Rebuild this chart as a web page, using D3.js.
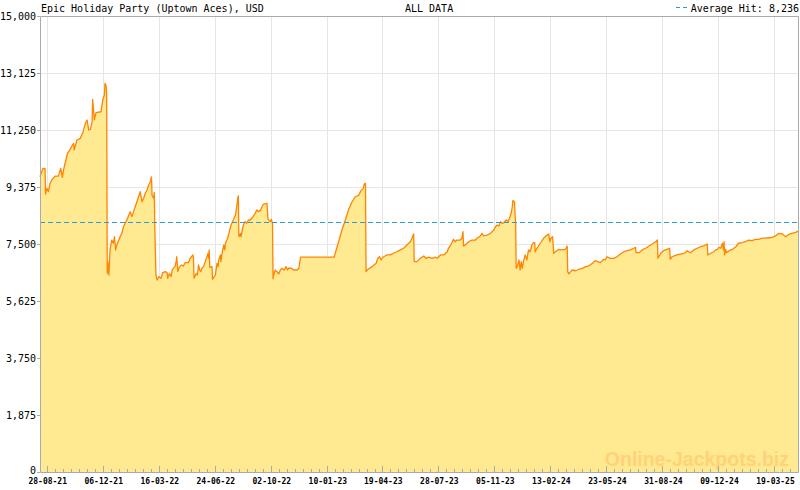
<!DOCTYPE html>
<html><head><meta charset="utf-8">
<script src="https://cdnjs.cloudflare.com/ajax/libs/d3/7.8.5/d3.min.js"></script>
<style>body{margin:0;background:#fff}svg{display:block}</style>
</head><body>
<svg id="chart" width="800" height="490"></svg>
<script>
const chartTitle = "Epic Holiday Party (Uptown Aces), USD";
const rangeLabel = "ALL DATA";
const averageLabel = "Average Hit: ";
const averageHit = 8236;
const watermark = "Online-Jackpots.biz";
const baseDate = "28-08-21";
const domainStart = "16-08-21";
const domainEnd = "30-04-25";
const xTickLabels = ["28-08-21","06-12-21","16-03-22","24-06-22","02-10-22","10-01-23","19-04-23","28-07-23","05-11-23","13-02-24","23-05-24","31-08-24","09-12-24","19-03-25"];
const yTickValues = [0,1875,3750,5625,7500,9375,11250,13125,15000];
// days after baseDate
const dayOffsets = [
-12,-7,-3,-2,0,3,6,9,15,21,
25,28,30,35,37,41,45,48,49,54,
60,65,69,72,75,78,81,82,85,88,
97,100,103,104,106,107,108,109,111,113,
116,119,121,123,125,131,134,137,140,143,
149,152,155,158,161,164,167,170,173,176,
179,182,185,187,188,191,192,193,195,197,
200,204,207,212,215,216,219,222,224,226,
229,231,232,234,237,241,244,247,253,256,
261,262,263,267,269,271,273,275,277,280,
283,286,288,289,290,291,295,296,299,301,
304,306,307,310,311,313,316,318,319,323,
326,329,333,337,340,341,342,343,346,347,
349,351,354,357,360,363,366,369,372,375,
378,382,384,387,393,395,399,401,403,404,
405,408,411,414,417,420,424,427,430,432,
437,441,447,450,453,513,515,521,527,533,
539,545,551,557,561,565,567,569,570,572,
576,581,584,588,591,594,597,600,604,607,
613,619,625,631,637,643,649,652,655,656,
661,667,673,677,682,688,694,697,703,709,
712,715,717,721,724,726,729,732,738,741,
743,744,747,753,759,765,768,774,777,780,
786,792,798,801,804,807,810,813,816,820,
823,826,829,831,832,835,836,837,838,840,
843,845,847,849,851,854,857,860,863,866,
869,871,872,875,881,887,893,896,898,900,
903,905,908,914,920,926,929,930,932,935,
938,944,950,956,962,967,974,979,984,988,
994,997,1000,1006,1012,1018,1024,1030,1036,1042,
1048,1051,1052,1057,1063,1069,1075,1081,1087,1090,
1091,1096,1101,1107,1112,1113,1116,1119,1125,1131,
1137,1140,1143,1146,1149,1155,1161,1167,1173,1179,
1180,1185,1191,1194,1197,1200,1203,1206,1208,1209,
1210,1212,1213,1218,1224,1230,1235,1241,1247,1253,
1259,1265,1271,1277,1283,1289,1295,1301,1307,1313,
1319,1325,1330,1337,1342];
const jackpotValues = [
9710,9980,9990,9145,9330,9220,9500,9605,9735,9735,
9990,9695,9935,10320,10485,10590,10725,10810,10590,10920,
10975,11195,11470,11580,11250,11275,11525,12260,11580,11820,
11850,12235,12400,12785,12695,12475,6535,6920,6480,7305,
7630,7525,7740,7305,7465,7740,7850,8070,8180,8290,
8565,8400,8565,8725,8890,9055,9220,8890,9005,9170,
9275,9440,9550,9705,9100,9005,9195,7960,6480,6315,
6425,6370,6555,6590,6555,6370,6535,6425,6645,6700,
6755,6920,7080,6590,6755,6810,6775,6885,6885,7030,
7140,7030,6370,6535,6480,6810,6645,6590,6700,6755,
6920,7080,7195,7030,7305,6735,6755,6340,6425,6480,
6865,6755,6975,7140,6920,7195,7465,7305,7525,7690,
7905,8125,8290,8455,8840,9005,9080,7740,7850,7740,
7960,8125,8235,8180,8290,8290,8345,8420,8510,8620,
8565,8620,8725,8815,8840,8320,8235,8310,8180,6355,
6480,6645,6590,6515,6645,6700,6645,6755,6645,6710,
6700,6645,6645,6700,7065,7065,7195,7575,7960,8290,
8640,8890,9055,9110,9255,9330,9475,9495,6590,6645,
6700,6755,6810,6865,7030,7080,6975,7065,7105,7140,
7140,7195,7245,7305,7360,7465,7575,7690,7830,6920,
6920,7030,7105,7030,7065,7030,7065,7030,7140,7140,
7195,7245,7360,7465,7575,7655,7575,7630,7630,7690,
7905,7435,7465,7575,7630,7630,7690,7765,7850,7765,
7795,7850,7960,8070,8125,8090,8235,8180,8200,8290,
8235,8345,8510,8725,8930,8890,8455,8180,6700,6755,
6975,6645,6920,6700,6920,7140,6975,7305,7245,7465,
7545,7545,7245,7360,7525,7690,7795,7830,7575,7690,
7740,7195,7245,7325,7305,7325,7435,6590,6515,6590,
6645,6620,6670,6700,6755,6775,6865,6950,6920,6885,
6995,6975,7080,7030,7030,7080,7170,7245,7280,7305,
7360,7390,7215,7215,7305,7360,7435,7500,7575,7630,
7030,7195,7280,7325,7360,6995,7080,7105,7140,7170,
7195,7215,7280,7245,7215,7305,7360,7410,7435,7500,
7140,7195,7245,7305,7325,7390,7360,7525,7305,7575,
7140,7325,7215,7280,7325,7410,7525,7545,7575,7630,
7610,7655,7655,7690,7690,7705,7720,7765,7850,7830,
7740,7820,7850,7885,7930];

const parse = d3.timeParse("%d-%m-%y");
const base = parse(baseDate);
const data = dayOffsets.map((d, i) => ({date: d3.timeDay.offset(base, d), value: jackpotValues[i]}));

const L = 40, R = 798, T = 16, B = 472;
const x = d3.scaleTime().domain([parse(domainStart), parse(domainEnd)]).range([L, R]);
const y = d3.scaleLinear().domain([0, 15000]).range([B, T]);

const svg = d3.select("#chart");
const mono = "'DejaVu Sans Mono', 'Liberation Mono', monospace";
const gridCol = "#e6e6e6", axisCol = "#aaaaaa";

const majorDates = xTickLabels.map(parse);
const px = v => Math.round(v) + 0.5;

// horizontal grid
svg.append("g").selectAll("line").data(yTickValues.filter(v => v > 0 && v < 15000)).join("line")
  .attr("x1", L).attr("x2", R).attr("y1", d => px(y(d))).attr("y2", d => px(y(d)))
  .attr("stroke", gridCol).attr("stroke-width", 1);
// vertical grid
svg.append("g").selectAll("line").data(majorDates).join("line")
  .attr("x1", d => px(x(d))).attr("x2", d => px(x(d))).attr("y1", T).attr("y2", B)
  .attr("stroke", gridCol).attr("stroke-width", 1);

// area + line
const area = d3.area().x(d => x(d.date)).y0(B).y1(d => y(d.value));
const line = d3.line().x(d => x(d.date)).y(d => y(d.value));
svg.append("path").datum(data).attr("d", area).attr("fill", "#ffe991");

// watermark
svg.append("text").attr("x", 789).attr("y", 466).attr("text-anchor", "end")
  .attr("font-family", "'Liberation Sans', Arial, sans-serif").attr("font-weight", "bold")
  .attr("font-size", 19.5).attr("fill", "#ffd27a").text(watermark);

svg.append("path").datum(data).attr("d", line).attr("fill", "none")
  .attr("stroke", "#ff8400").attr("stroke-width", 1.3).attr("stroke-linejoin", "round");

// average line
svg.append("line").attr("x1", L).attr("x2", R).attr("y1", px(y(averageHit))).attr("y2", px(y(averageHit)))
  .attr("stroke", "#2b9ad6").attr("stroke-width", 1.2).attr("stroke-dasharray", "5,3");

// frame
svg.append("path").attr("d", `M${L+0.5},${T+0.5}H${R+0.5}V${B+0.5}H${L+0.5}Z`)
  .attr("fill", "none").attr("stroke", axisCol).attr("stroke-width", 1);

// y axis ticks and labels
const yAxis = svg.append("g");
yAxis.selectAll("line").data(yTickValues).join("line")
  .attr("x1", L - 3).attr("x2", L).attr("y1", d => px(y(d))).attr("y2", d => px(y(d)))
  .attr("stroke", axisCol);
yAxis.selectAll("text").data(yTickValues).join("text")
  .attr("x", 36).attr("y", d => y(d) + (d === 0 ? 2 : 4))
  .attr("text-anchor", "end").attr("font-family", mono).attr("font-size", 10).attr("fill", "#000")
  .text(d => d3.format(",")(d));

// x ticks: major + minor
const minor = [];
majorDates.forEach(m => {
  for (let k = 1; k < 7; k++) {
    const t = new Date(m.getTime() + k * 100 / 7 * 86400000);
    if (x(t) < R) minor.push(t);
  }
});
svg.append("g").selectAll("line").data(minor).join("line")
  .attr("x1", d => px(x(d))).attr("x2", d => px(x(d))).attr("y1", B - 3).attr("y2", B)
  .attr("stroke", axisCol);
svg.append("g").selectAll("line").data(majorDates).join("line")
  .attr("x1", d => px(x(d))).attr("x2", d => px(x(d))).attr("y1", B - 6).attr("y2", B)
  .attr("stroke", axisCol);
svg.append("g").selectAll("text").data(xTickLabels).join("text")
  .attr("x", d => x(parse(d)) + 1).attr("y", 484)
  .attr("text-anchor", "middle").attr("font-family", mono).attr("font-size", 8).attr("font-weight", "bold")
  .attr("fill", "#000").text(d => d);

// header
svg.append("text").attr("x", 41).attr("y", 12).attr("font-family", mono).attr("font-size", 10)
  .attr("fill", "#000").text(chartTitle);
svg.append("text").attr("x", 405).attr("y", 12).attr("font-family", mono).attr("font-size", 10)
  .attr("fill", "#000").text(rangeLabel);
svg.append("line").attr("x1", 676).attr("x2", 689).attr("y1", 7.5).attr("y2", 7.5)
  .attr("stroke", "#2b9ad6").attr("stroke-width", 1.2).attr("stroke-dasharray", "4,3");
svg.append("text").attr("x", 799).attr("y", 12).attr("text-anchor", "end").attr("font-family", mono)
  .attr("font-size", 10).attr("fill", "#000").text(averageLabel + d3.format(",")(averageHit));
</script>
</body></html>
